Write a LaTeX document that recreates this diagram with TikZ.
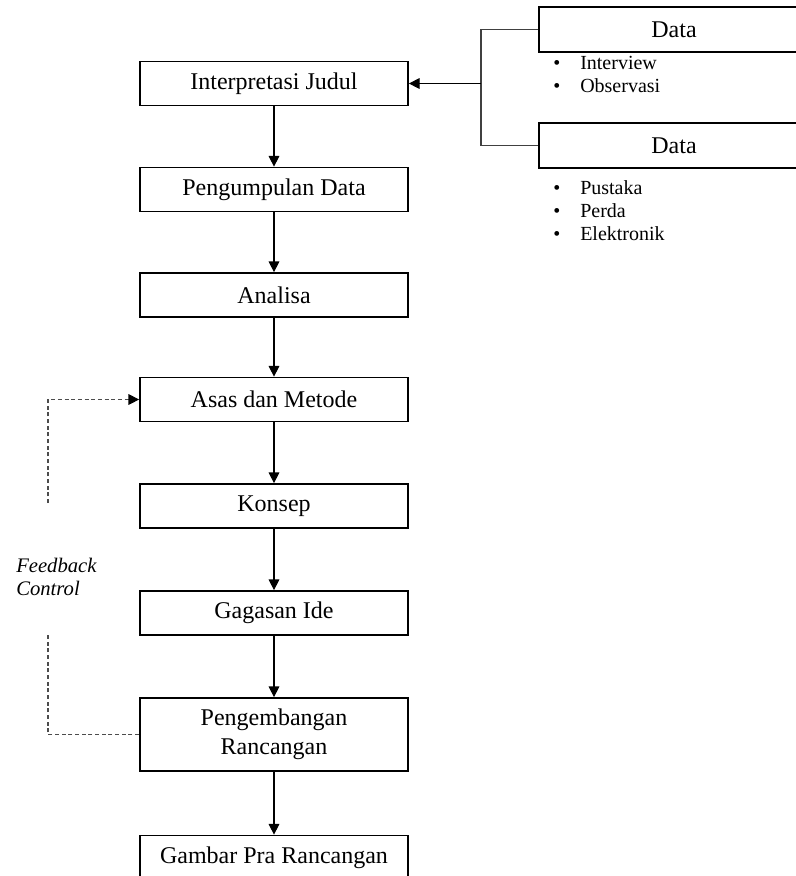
\documentclass[tikz,border=0pt]{standalone}
\usepackage{fontspec}
\setmainfont{Liberation Serif}
\usetikzlibrary{arrows.meta,positioning}

\begin{document}
\begin{tikzpicture}[x=0.75pt,y=-0.75pt,
  box/.style={draw,line width=1.3pt,minimum width=201pt,minimum height=33pt,inner sep=0pt,align=center,font=\fontsize{18}{21.6}\selectfont},
  databox/.style={box,minimum width=202.5pt,minimum height=33.75pt},
  list/.style={inner sep=0pt,anchor=west,font=\fontsize{15}{17.25}\selectfont},
  flow/.style={line width=.8pt,-{Triangle[length=8pt,width=8pt]}},
  feedback/.style={line width=.8pt,black!70,dash pattern=on 3pt off 2pt}]
\useasboundingbox (0,0) rectangle (796,876);
% main column
\node[box] (interp) at (274,83.5) {Interpretasi Judul};
\node[box] (kumpul) at (274,189.5) {Pengumpulan Data};
\node[box] (analisa) at (274,295) {Analisa};
\node[box] (asas) at (274,399.5) {Asas dan Metode};
\node[box] (konsep) at (274,506) {Konsep};
\node[box] (gagasan) at (274,613) {Gagasan Ide};
\node[box,minimum height=54.75pt] (kembang) at (274,734.5) {Pengembangan\\Rancangan};
\node[box] (gambar) at (274,857.5) {Gambar Pra Rancangan};
\draw[flow] (interp) -- (kumpul);
\draw[flow] (kumpul) -- (analisa);
\draw[flow] (analisa) -- (asas);
\draw[flow] (asas) -- (konsep);
\draw[flow] (konsep) -- (gagasan);
\draw[flow] (gagasan) -- (kembang);
\draw[flow] (kembang) -- (gambar);
% data sources
\node[databox] (data1) at (674,29.5) {Data};
\node[databox] (data2) at (674,145.5) {Data};
\node[list] (list1) at (553,76.5) {\begin{tabular}{@{}l@{\hspace{15pt}}l@{}}\textbullet & Interview\\ \textbullet & Observasi\end{tabular}};
\node[list] (list2) at (553,213) {\begin{tabular}{@{}l@{\hspace{15pt}}l@{}}\textbullet & Pustaka\\ \textbullet & Perda\\ \textbullet & Elektronik\end{tabular}};
\coordinate (jn) at (481,83.5);
\draw[line width=.8pt,black!75] (data1.west) -| (jn) |- (data2.west);
\draw[flow] (jn) -- (interp.east);
% feedback loop
\coordinate (fbtop) at (48,503);
\coordinate (fbbot) at (48,633);
\draw[feedback,-{Triangle[length=8pt,width=8pt,black]}] (fbtop) |- (asas.west);
\draw[feedback] (kembang.west) -| (fbbot);
\node[anchor=west,inner sep=0pt,align=left,font=\fontsize{15.5}{17.25}\selectfont\itshape] (fbtext) at (16,576.5) {Feedback\\Control};
\end{tikzpicture}
\end{document}
